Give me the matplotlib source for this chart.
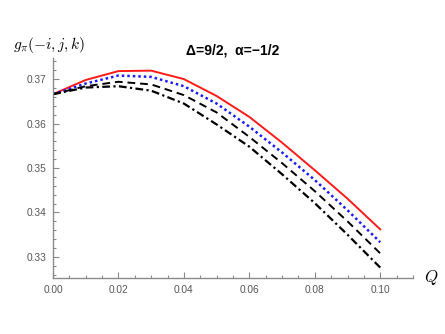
import numpy as np
import matplotlib
matplotlib.use("Agg")
import matplotlib.pyplot as plt
from matplotlib.ticker import MultipleLocator

# valores
q = [0.00, 0.01, 0.02, 0.03, 0.04, 0.05, 0.06, 0.07, 0.08, 0.09, 0.10]
g_rojo = [0.3666, 0.3698, 0.3718, 0.3719, 0.3700, 0.3662, 0.3615, 0.3557, 0.3495, 0.3431, 0.3362]
g_azul = [0.3666, 0.3690, 0.3708, 0.3705, 0.3684, 0.3645, 0.3593, 0.3535, 0.3473, 0.3405, 0.3333]
g_guion = [0.3666, 0.3684, 0.3694, 0.3688, 0.3664, 0.3625, 0.3570, 0.3511, 0.3448, 0.3380, 0.3308]
g_punto_guion = [0.3666, 0.3681, 0.3684, 0.3674, 0.3645, 0.3598, 0.3548, 0.3486, 0.3421, 0.3350, 0.3276]

plt.rcParams["mathtext.fontset"] = "cm"
gris = "#8a8a8a"

fig = plt.figure(figsize=(4.45, 3.34), dpi=100)
ax = fig.add_axes([0.119, 0.168, 0.809, 0.658])

ax.plot(q, g_rojo, color="#ff1a1a", lw=1.4, ls="-")
ax.plot(q, g_azul, color="#1a1aff", lw=1.8, ls=(0, (1, 1.2)))
ax.plot(q, g_guion, color="black", lw=1.4, ls=(0, (4, 2.5)))
ax.plot(q, g_punto_guion, color="black", lw=1.6, ls=(0, (3.5, 1.5, 1, 1.5)))

ax.set_xlim(0, 0.11)
ax.set_ylim(0.32528, 0.37472)

# solo ejes izquierdo e inferior, estilo Mathematica
for lado in ["top", "right"]:
    ax.spines[lado].set_visible(False)
for lado in ["left", "bottom"]:
    ax.spines[lado].set_color(gris)
    ax.spines[lado].set_linewidth(1.0)

ax.set_xticks([0.00, 0.02, 0.04, 0.06, 0.08, 0.10])
ax.set_yticks([0.33, 0.34, 0.35, 0.36, 0.37])
ax.xaxis.set_minor_locator(MultipleLocator(0.005))
ax.yaxis.set_minor_locator(MultipleLocator(0.002))
ax.tick_params(which="both", direction="in", color=gris, labelcolor="#555555",
               labelsize=7.3, width=0.8)
ax.tick_params(which="major", length=4)
ax.tick_params(which="minor", length=2)
ax.tick_params(axis="x", pad=5)
ax.tick_params(axis="y", pad=5)
ax.set_xticklabels(["0.00", "0.02", "0.04", "0.06", "0.08", "0.10"], family="Liberation Sans")
ax.set_yticklabels(["0.33", "0.34", "0.35", "0.36", "0.37"], family="Liberation Sans")

fig.text(0.03, 0.865, r"$g_{\pi}(-i,j,k)$", fontsize=11, va="center", ha="left")
fig.text(0.968, 0.168, r"$Q$", fontsize=12, va="center", ha="center")
fig.text(0.522, 0.85, "Δ=9/2,  α=−1/2", fontsize=10, fontweight="bold",
         family="Liberation Sans", ha="center", va="center")

fig.savefig("out.png", dpi=100)
